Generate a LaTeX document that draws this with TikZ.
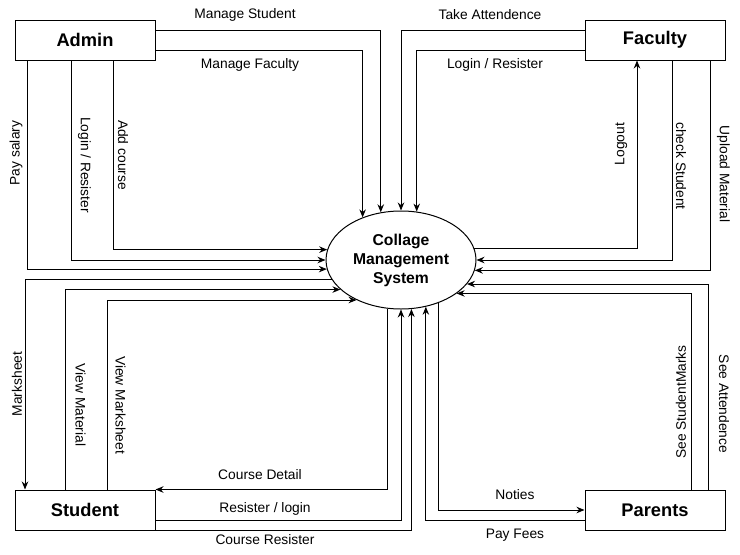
\documentclass[tikz,border=0pt]{standalone}
\usepackage{fontspec}
\setmainfont{Liberation Sans}
\usetikzlibrary{shapes.geometric,arrows.meta}
\tikzset{
  box/.style={
    rectangle,
    minimum width=140pt,
    minimum height=40pt,
    inner sep=0pt,
    line width=1pt,
    font=\fontsize{18.3}{21}\selectfont\bfseries,
  draw
  },
  system/.style={
    ellipse,
    minimum width=150pt,
    minimum height=98pt,
    inner sep=0pt,
    line width=1pt,
    align=center,
    font=\fontsize{15.7}{19}\selectfont\bfseries,
  draw
  },
  flow/.style={line width=1pt,-{Stealth[length=8pt,width=6.5pt]}},
  lbl/.style={inner sep=0pt,font=\fontsize{13.8}{16}\selectfont}
}

\begin{document}
\begin{tikzpicture}[x=1pt,y=-1pt]
    \useasboundingbox (0,0) rectangle (740,555);
    \node[system] (cms) at (401,260) {Collage\\Management\\System};
    \node[box] (admin) at (85,40) {Admin};
    \node[box] (faculty) at (655,40) {Faculty};
    \node[box] (student) at (85,510) {Student};
    \node[box] (parents) at (655,510) {Parents};

    \draw[flow] ([yshift=10pt]admin.east) -| (cms.113);
    \draw[flow] ([yshift=-10pt]admin.east) -| (cms.132);
    \draw[flow] ([xshift=28pt]admin.south) |- (cms.172.2);
    \draw[flow] ([xshift=-14pt]admin.south) |- (cms.180);
    \draw[flow] ([xshift=-58pt]admin.south) |- (cms.187.8);
    \draw[flow] ([yshift=10pt]faculty.west) -| (cms.90);
    \draw[flow] ([yshift=-10pt]faculty.west) -| (cms.72.6);
    \draw[flow] (cms.9.4) -| ([xshift=-18pt]faculty.south);
    \draw[flow] ([xshift=17pt]faculty.south) |- (cms.0);
    \draw[flow] ([xshift=55pt]faculty.south) |- (cms.352.2);
    \draw[flow] (cms.196.3) -| ([xshift=-60pt]student.north);
    \draw[flow] ([xshift=-20pt]student.north) |- (cms.206.8);
    \draw[flow] ([xshift=22pt]student.north) |- (cms.222.7);
    \draw[flow] (cms.254.9) |- (student.north east);
    \draw[flow] ([yshift=-10pt]student.east) -| (cms.270);
    \draw[flow] (student.south east) -| (cms.282.4);
    \draw[flow] (cms.311) |- (parents.west);
    \draw[flow] ([yshift=-10pt]parents.west) -| (cms.298.1);
    \draw[flow] ([xshift=36pt]parents.north) |- (cms.329.2);
    \draw[flow] ([xshift=53pt]parents.north) |- (cms.340.8);

    \node[lbl] (lmstu) at (245,15) {Manage Student};
    \node[lbl] (lmfac) at (250,65) {Manage Faculty};
    \node[lbl,rotate=90] (lpay) at (16,153) {Pay salary};
    \node[lbl,rotate=-90] (lalog) at (84.5,165) {Login / Resister};
    \node[lbl,rotate=-90] (ladd) at (123,155) {Add course};
    \node[lbl] (ltake) at (490,15) {Take Attendence};
    \node[lbl] (lflog) at (495,65) {Login / Resister};
    \node[lbl,rotate=90] (lout) at (621,144) {Logout};
    \node[lbl,rotate=-90] (lchk) at (681,166) {check Student};
    \node[lbl,rotate=-90] (lupl) at (723.5,174) {Upload Material};
    \node[lbl,rotate=90] (lmark) at (17,384) {Marksheet};
    \node[lbl,rotate=-90] (lvmat) at (80.5,405) {View Material};
    \node[lbl,rotate=-90] (lvmark) at (120.5,405) {View Marksheet};
    \node[lbl] (ldet) at (260,475) {Course Detail};
    \node[lbl] (lreg) at (265,509) {Resister / login};
    \node[lbl] (lcreg) at (265,540) {Course Resister};
    \node[lbl] (lnot) at (515,495) {Noties};
    \node[lbl] (lfee) at (515,535) {Pay Fees};
    \node[lbl,rotate=90] (lsmk) at (681,402) {See StudentMarks};
    \node[lbl,rotate=-90] (lsatt) at (724,404) {See Attendence};
\end{tikzpicture}
\end{document}
